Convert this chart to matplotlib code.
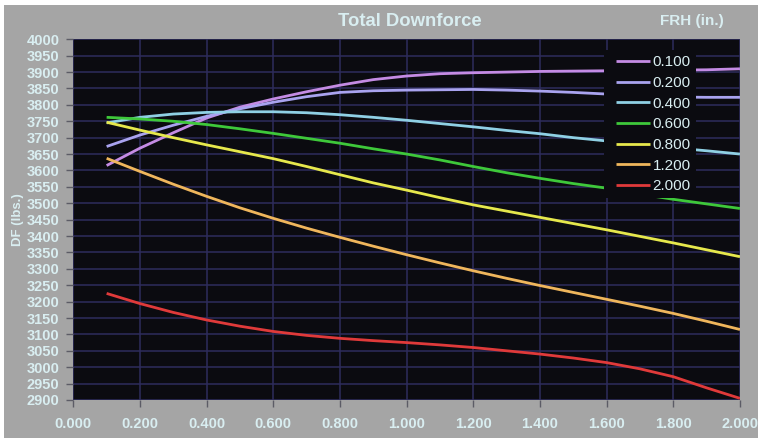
import matplotlib.pyplot as plt
from matplotlib.patches import Rectangle

plt.rcParams["font.family"] = ["Liberation Sans", "DejaVu Sans"]

# Rear ride height (in.) on x, one curve per front ride height (FRH)
rrh = [0.1, 0.2, 0.3, 0.4, 0.5, 0.6, 0.7, 0.8, 0.9, 1.0,
       1.1, 1.2, 1.3, 1.4, 1.5, 1.6, 1.7, 1.8, 1.9, 2.0]
frh_labels = ["0.100", "0.200", "0.400", "0.600", "0.800", "1.200", "2.000"]

df_0100 = [3615, 3668, 3715, 3760, 3793, 3818, 3840, 3860, 3877, 3888,
           3895, 3898, 3900, 3902, 3903, 3904, 3905, 3906, 3907, 3910]
df_0200 = [3673, 3708, 3738, 3765, 3788, 3808, 3825, 3838, 3843, 3845,
           3846, 3847, 3845, 3842, 3838, 3833, 3828, 3824, 3823, 3823]
df_0400 = [3745, 3762, 3772, 3777, 3779, 3779, 3776, 3770, 3762, 3753,
           3743, 3733, 3722, 3712, 3700, 3690, 3679, 3669, 3660, 3650]
df_0600 = [3762, 3757, 3750, 3740, 3727, 3713, 3698, 3683, 3666, 3650,
           3632, 3612, 3593, 3576, 3560, 3546, 3528, 3512, 3498, 3484]
df_0800 = [3747, 3723, 3700, 3678, 3657, 3636, 3612, 3587, 3562, 3540,
           3517, 3495, 3476, 3457, 3438, 3419, 3399, 3379, 3358, 3337]
df_1200 = [3637, 3597, 3558, 3521, 3486, 3454, 3424, 3396, 3369, 3343,
           3318, 3294, 3271, 3249, 3228, 3207, 3186, 3164, 3140, 3115]
df_2000 = [3225, 3194, 3167, 3144, 3125, 3109, 3097, 3088, 3081, 3075,
           3068, 3060, 3050, 3040, 3028, 3014, 2995, 2971, 2937, 2905]

series = [df_0100, df_0200, df_0400, df_0600, df_0800, df_1200, df_2000]
colors = ["#c48be4", "#a9a3ef", "#8fd0e4", "#3ec83a", "#e6e84c", "#efb65c", "#e03a3a"]

TEXT = "#d9eef1"
BG = "#0b0b10"

fig = plt.figure(figsize=(7.58, 4.38), dpi=100, facecolor="white")
# grey panel with a thin white edge at top/left like the screenshot
fig.patches.append(Rectangle((4 / 758, 0), 1, 1 - 5 / 438, transform=fig.transFigure,
                             facecolor="#a5a5a5", edgecolor="none", zorder=-10))

ax = fig.add_axes([0.0967, 0.0868, 0.8795, 0.8235])
ax.set_facecolor(BG)

for vals, lab, col in zip(series, frh_labels, colors):
    ax.plot(rrh, vals, color=col, lw=2.0, label=lab, solid_capstyle="butt")

ax.set_xlim(0, 2.0)
ax.set_ylim(2900, 4000)
ax.set_xticks([i * 0.2 for i in range(11)])
ax.set_xticklabels([f"{i * 0.2:.3f}" for i in range(11)])
ax.set_yticks(range(2900, 4001, 50))

ax.grid(True, color="#2d2c5c", lw=1.1)
ax.set_axisbelow(True)
for s in ax.spines.values():
    s.set_visible(False)

ax.tick_params(axis="both", colors="#5c5c66", length=5, width=1)
for t in ax.get_xticklabels() + ax.get_yticklabels():
    t.set_color(TEXT)
    t.set_fontweight("bold")
    t.set_fontsize(10.5)
ax.tick_params(axis="x", pad=7)
ax.tick_params(axis="y", pad=5)

ax.set_ylabel("DF (lbs.)", color=TEXT, fontweight="bold", fontsize=9.5, labelpad=2)

fig.text(409.5 / 758, 1 - 21 / 438, "Total Downforce", color=TEXT, fontweight="bold",
         fontsize=13.3, ha="center", va="center")
fig.text(692 / 758, 1 - 21 / 438, "FRH (in.)", color=TEXT, fontweight="bold",
         fontsize=11, ha="center", va="center")

# black block behind the legend hides the curves there
ax.add_patch(Rectangle((0.796, 0.560), 0.138, 0.41, transform=ax.transAxes,
                       facecolor=BG, edgecolor="none", zorder=4))
leg = ax.legend(loc="upper left", bbox_to_anchor=(0.814, 0.956), frameon=False,
                fontsize=11, handlelength=2.2, handletextpad=0.2,
                labelspacing=0.44, borderpad=0, borderaxespad=0)
leg.set_zorder(5)
for t in leg.get_texts():
    t.set_color(TEXT)

fig.savefig("out.png", dpi=100, facecolor=fig.get_facecolor())
